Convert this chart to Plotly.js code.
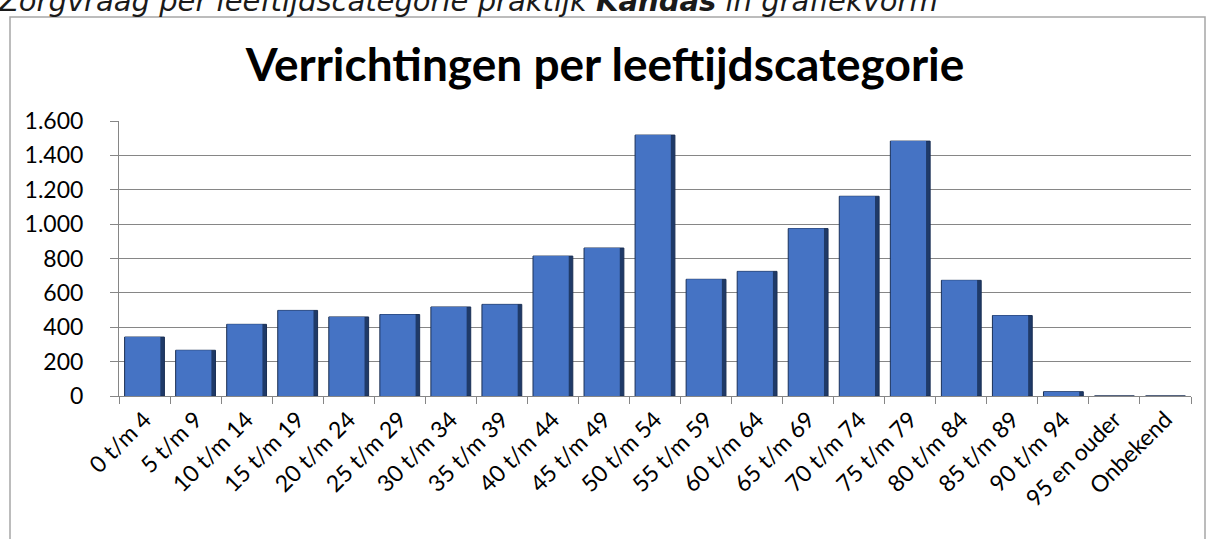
<!DOCTYPE html>
<html>
<head>
<meta charset="utf-8">
<script src="https://cdn.plot.ly/plotly-3.0.1.min.js"></script>
<style>
  html, body { margin: 0; padding: 0; background: #ffffff; }
  #chart { width: 1215px; height: 539px; }
</style>
</head>
<body>
<div id="chart"></div>
<script>
// ---- data ----
const categories = [
  "0 t/m 4", "5 t/m 9", "10 t/m 14", "15 t/m 19", "20 t/m 24",
  "25 t/m 29", "30 t/m 34", "35 t/m 39", "40 t/m 44", "45 t/m 49",
  "50 t/m 54", "55 t/m 59", "60 t/m 64", "65 t/m 69", "70 t/m 74",
  "75 t/m 79", "80 t/m 84", "85 t/m 89", "90 t/m 94", "95 en ouder", "Onbekend"
];
const verrichtingen = [
  343, 266, 417, 498, 460,
  474, 518, 533, 814, 861,
  1518, 679, 725, 974, 1162,
  1483, 673, 468, 25, 0, 0
];
const yTickValues = [0, 200, 400, 600, 800, 1000, 1200, 1400, 1600];
const chartTitle = "Verrichtingen per leeftijdscategorie";
const headerText = "Zorgvraag per leeftijdscategorie praktijk <b>Kahdas</b> in grafiekvorm";

// ---- layout geometry (pixels) ----
const W = 1215, H = 539;
const M = { l: 119, r: 24, t: 121, b: 143 };
const plotW = W - M.l - M.r, plotH = H - M.t - M.b;
const px2x = px => (px - M.l) / plotW;
const py2y = py => (H - M.b - py) / plotH;

// outer bar (dark bevel edge) and inner face
const barEdge = {
  type: "bar", x: categories, y: verrichtingen,
  width: 0.78, offset: -0.39,
  marker: { color: "#1f3a68", line: { color: "#1a2f55", width: 1 } },
  hoverinfo: "x+y"
};
const barFace = {
  type: "bar", x: categories, y: verrichtingen,
  width: 0.69, offset: -0.38,
  marker: { color: "#4573c4", line: { width: 0 } },
  hoverinfo: "skip"
};

const layout = {
  width: W, height: H,
  margin: M,
  barmode: "overlay",
  paper_bgcolor: "#ffffff",
  plot_bgcolor: "#ffffff",
  separators: ",.",
  showlegend: false,
  font: { family: "Lato, 'Liberation Sans', sans-serif", color: "#000000", size: 22 },
  title: {
    text: "<b>" + chartTitle + "</b>",
    font: { family: "Lato, 'Liberation Sans', sans-serif", size: 46, color: "#000000" },
    x: 605 / W, xanchor: "center",
    y: 1 - 65 / H, yanchor: "middle", yref: "container"
  },
  xaxis: {
    type: "category",
    tickangle: -45,
    ticks: "outside", ticklen: 7, tickcolor: "#868686", tickwidth: 1,
    tickson: "boundaries",
    showline: true, linecolor: "#868686", linewidth: 1,
    showgrid: false,
    tickfont: { size: 23 },
    range: [-0.5, categories.length - 0.5]
  },
  yaxis: {
    range: [0, 1600],
    tickvals: yTickValues,
    tickformat: ",d",
    ticks: "outside", ticklen: 8, tickcolor: "#868686", tickwidth: 1,
    ticklabelstandoff: 22,
    showline: true, linecolor: "#868686", linewidth: 1,
    showgrid: true, gridcolor: "#868686", gridwidth: 1,
    zeroline: false,
    tickfont: { size: 23 }
  },
  shapes: [{
    type: "rect", xref: "paper", yref: "paper",
    x0: px2x(10), x1: px2x(1205), y0: py2y(560), y1: py2y(17),
    line: { color: "#a6a6a6", width: 1.5 }, fillcolor: "rgba(0,0,0,0)", layer: "below"
  }],
  annotations: [{
    text: "<i>" + headerText + "</i>",
    xref: "paper", yref: "paper",
    x: px2x(-4), y: py2y(20),
    xanchor: "left", yanchor: "bottom",
    showarrow: false,
    font: { family: "'DejaVu Sans', sans-serif", size: 29, color: "#1a1a1a" }
  }]
};

Plotly.newPlot("chart", [barEdge, barFace], layout, { displayModeBar: false, staticPlot: true });
</script>
</body>
</html>
